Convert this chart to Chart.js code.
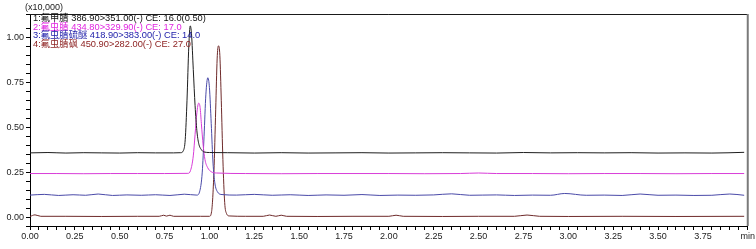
<!DOCTYPE html>
<html>
<head>
<meta charset="utf-8">
<script src="https://cdn.jsdelivr.net/npm/chart.js@4"></script>
<style>
  html, body { margin: 0; padding: 0; background: #fff; }
  #wrap { width: 756px; height: 249px; }
</style>
</head>
<body>
<div id="wrap"><canvas id="chromChart"></canvas></div>
<script>
// retention time (min) and intensity (x10,000)
const t1 = [0.00, 0.10, 0.20, 0.30, 0.40, 0.50, 0.60, 0.70, 0.80, 0.84, 0.855, 0.865, 0.875, 0.885, 0.893, 0.90, 0.91, 0.92, 0.93, 0.94, 0.955, 0.97, 1.00, 1.10, 1.25, 1.40, 1.55, 1.70, 1.85, 2.00, 2.15, 2.30, 2.45, 2.60, 2.75, 2.90, 3.05, 3.20, 3.35, 3.50, 3.65, 3.80, 3.98];
const y1 = [0.357, 0.359, 0.356, 0.358, 0.357, 0.356, 0.358, 0.357, 0.357, 0.358, 0.37, 0.43, 0.65, 0.95, 1.064, 1.02, 0.82, 0.62, 0.48, 0.41, 0.375, 0.362, 0.359, 0.358, 0.356, 0.358, 0.356, 0.357, 0.358, 0.356, 0.357, 0.358, 0.357, 0.356, 0.359, 0.357, 0.358, 0.357, 0.358, 0.356, 0.357, 0.356, 0.36];

const t2 = [0.00, 0.15, 0.30, 0.45, 0.60, 0.75, 0.88, 0.895, 0.91, 0.92, 0.93, 0.94, 0.948, 0.955, 0.965, 0.975, 0.99, 1.01, 1.04, 1.20, 1.40, 1.60, 1.80, 2.00, 2.20, 2.40, 2.50, 2.60, 2.80, 3.00, 3.20, 3.40, 3.60, 3.80, 3.98];
const y2 = [0.242, 0.242, 0.241, 0.242, 0.242, 0.242, 0.243, 0.26, 0.34, 0.46, 0.58, 0.634, 0.61, 0.52, 0.40, 0.32, 0.275, 0.252, 0.245, 0.242, 0.241, 0.242, 0.242, 0.242, 0.241, 0.242, 0.245, 0.242, 0.242, 0.241, 0.242, 0.242, 0.241, 0.242, 0.242];

const t3 = [0.00, 0.08, 0.16, 0.24, 0.31, 0.38, 0.46, 0.54, 0.62, 0.70, 0.78, 0.86, 0.93, 0.945, 0.96, 0.97, 0.98, 0.991, 1.00, 1.01, 1.02, 1.03, 1.045, 1.07, 1.15, 1.25, 1.35, 1.45, 1.55, 1.65, 1.75, 1.85, 1.95, 2.05, 2.15, 2.25, 2.35, 2.45, 2.52, 2.60, 2.70, 2.80, 2.90, 2.98, 3.10, 3.20, 3.30, 3.40, 3.50, 3.60, 3.70, 3.80, 3.90, 3.98];
const y3 = [0.122, 0.126, 0.120, 0.124, 0.121, 0.128, 0.120, 0.123, 0.121, 0.124, 0.120, 0.127, 0.122, 0.14, 0.25, 0.45, 0.68, 0.775, 0.72, 0.52, 0.30, 0.19, 0.14, 0.125, 0.122, 0.126, 0.121, 0.124, 0.120, 0.123, 0.121, 0.125, 0.120, 0.122, 0.121, 0.123, 0.129, 0.121, 0.122, 0.123, 0.120, 0.122, 0.121, 0.131, 0.121, 0.122, 0.120, 0.128, 0.121, 0.122, 0.120, 0.121, 0.128, 0.121];

const t4 = [0.00, 0.028, 0.06, 0.20, 0.40, 0.60, 0.72, 0.745, 0.76, 0.78, 0.80, 0.95, 1.00, 1.012, 1.025, 1.035, 1.043, 1.05, 1.058, 1.066, 1.075, 1.085, 1.095, 1.11, 1.20, 1.30, 1.335, 1.37, 1.40, 1.43, 1.60, 1.80, 2.00, 2.04, 2.08, 2.30, 2.50, 2.70, 2.77, 2.84, 3.00, 3.30, 3.60, 3.98];
const y4 = [0.003, 0.012, 0.004, 0.004, 0.003, 0.004, 0.004, 0.010, 0.005, 0.010, 0.004, 0.004, 0.004, 0.03, 0.25, 0.60, 0.88, 0.953, 0.90, 0.65, 0.32, 0.08, 0.02, 0.006, 0.004, 0.004, 0.011, 0.004, 0.010, 0.004, 0.003, 0.004, 0.004, 0.010, 0.004, 0.003, 0.004, 0.004, 0.011, 0.004, 0.003, 0.004, 0.003, 0.004];

const traceLabels = [
  "1:氟甲腈 386.90>351.00(-) CE: 16.0(0.50)",
  "2:氟虫腈 434.80>329.90(-) CE: 17.0",
  "3:氟虫腈硫醚 418.90>383.00(-) CE: 14.0",
  "4:氟虫腈砜 450.90>282.00(-) CE: 27.0"
];
const lineColors = ["#1e1e1e", "#d83cd8", "#4a4aa8", "#6e2a2a"];
const textColors = ["#111111", "#e024e0", "#1c1ca8", "#8a1c1c"];

const FONT = "'Liberation Sans', Arial, 'Noto Sans CJK SC', sans-serif";

function toPoints(ts, ys) {
  return ts.map((t, i) => ({ x: t, y: ys[i] }));
}

function onStep(v, step) {
  const r = v / step;
  return Math.abs(r - Math.round(r)) < 1e-6;
}

const series = [[t1, y1], [t2, y2], [t3, y3], [t4, y4]];

const framePlugin = {
  id: "frame",
  afterDraw(chart) {
    const { ctx, chartArea: a } = chart;
    ctx.save();
    // top border and right border
    ctx.strokeStyle = "#1a1a1a";
    ctx.lineWidth = 1;
    ctx.beginPath();
    ctx.moveTo(a.left, a.top + 0.5);
    ctx.lineTo(a.right, a.top + 0.5);
    ctx.stroke();
    ctx.strokeStyle = "#7a7a7a";
    ctx.lineWidth = 2;
    ctx.beginPath();
    ctx.moveTo(a.right, a.top);
    ctx.lineTo(a.right, a.bottom);
    ctx.stroke();

    // multiplier
    ctx.font = "9px " + FONT;
    ctx.fillStyle = "#222";
    ctx.textBaseline = "middle";
    ctx.textAlign = "left";
    ctx.fillText("(x10,000)", 25, 8);

    // trace labels
    ctx.font = "9.3px " + FONT;
    traceLabels.forEach((s, i) => {
      ctx.fillStyle = textColors[i];
      ctx.fillText(s, a.left + 3, a.top + 4.5 + i * 8.5);
    });
    ctx.restore();
  }
};

new Chart(document.getElementById("chromChart"), {
  type: "line",
  data: {
    datasets: series.map((s, i) => ({
      label: traceLabels[i],
      data: toPoints(s[0], s[1]),
      borderColor: lineColors[i],
      borderWidth: 1,
      pointRadius: 0,
      fill: false,
      cubicInterpolationMode: "monotone",
    })),
  },
  options: {
    responsive: true,
    maintainAspectRatio: false,
    animation: false,
    layout: { padding: { top: 14, right: 6, left: 0, bottom: 0 } },
    plugins: {
      legend: { display: false },
      tooltip: { enabled: false },
    },
    scales: {
      x: {
        type: "linear",
        min: 0,
        max: 4,
        afterFit: (s) => { s.height = 23; },
        border: { display: true, color: "#000", width: 1 },
        grid: { drawOnChartArea: false, drawTicks: true, tickLength: 4, tickColor: "#000" },
        ticks: {
          stepSize: 0.05,
          autoSkip: false,
          maxRotation: 0,
          padding: 1,
          color: "#222",
          font: { family: FONT, size: 9 },
          callback: (v) => {
            if (Math.abs(v - 4) < 1e-6) return "min";
            return onStep(v, 0.25) ? v.toFixed(2) : "";
          },
        },
      },
      y: {
        min: -0.05,
        max: 1.13,
        afterFit: (s) => { s.width = 30; },
        border: { display: true, color: "#000", width: 1 },
        grid: { drawOnChartArea: false, drawTicks: true, tickLength: 4, tickColor: "#000" },
        ticks: {
          stepSize: 0.05,
          autoSkip: false,
          padding: 2,
          color: "#222",
          font: { family: FONT, size: 9 },
          callback: (v) => (onStep(v, 0.25) && v >= 0 ? v.toFixed(2) : ""),
        },
      },
    },
  },
  plugins: [framePlugin],
});
</script>
</body>
</html>
